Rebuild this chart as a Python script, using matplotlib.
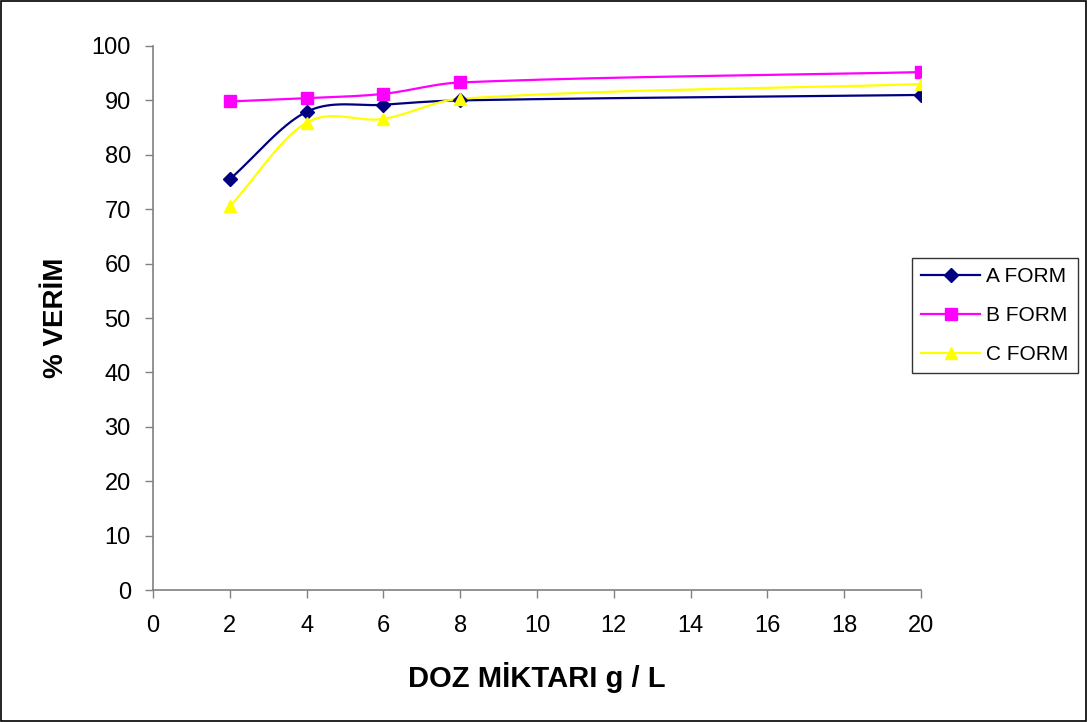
import numpy as np
import matplotlib
matplotlib.use("Agg")
import matplotlib.pyplot as plt
from matplotlib.patches import Rectangle

plt.rcParams['font.family'] = ['Liberation Sans', 'DejaVu Sans']

doz = [2, 4, 6, 8, 20]
a_form = [75.5, 87.9, 89.2, 90.0, 91.0]
b_form = [89.8, 90.4, 91.2, 93.3, 95.2]
c_form = [70.5, 85.9, 86.6, 90.3, 93.0]
series_names = ["A FORM", "B FORM", "C FORM"]
colors = ["#000080", "#FF00FF", "#FFFF00"]
markers = ["D", "s", "^"]


def smooth(xs, ys, n=40):
    """Smoothed line through the points (cubic Hermite drawn as Bezier)."""
    x = np.asarray(xs, float)
    y = np.asarray(ys, float)
    m = np.empty_like(y)
    m[1:-1] = (y[2:] - y[:-2]) / (x[2:] - x[:-2])
    m[0] = (y[1] - y[0]) / (x[1] - x[0])
    m[-1] = (y[-1] - y[-2]) / (x[-1] - x[-2])
    t = np.linspace(0, 1, n)
    ox, oy = [], []
    for i in range(len(x) - 1):
        h = x[i + 1] - x[i]
        p1 = np.array([x[i], y[i]])
        p2 = np.array([x[i + 1], y[i + 1]])
        c1 = p1 + np.array([h / 3, m[i] * h / 3])
        c2 = p2 - np.array([h / 3, m[i + 1] * h / 3])
        tt = t[:, None]
        seg = (1 - tt) ** 3 * p1 + 3 * (1 - tt) ** 2 * tt * c1 + 3 * (1 - tt) * tt ** 2 * c2 + tt ** 3 * p2
        if i > 0:
            seg = seg[1:]
        ox.append(seg[:, 0]); oy.append(seg[:, 1])
    return np.concatenate(ox), np.concatenate(oy)


fig = plt.figure(figsize=(10.88, 7.22), dpi=100)
ax = fig.add_axes([0.1406, 0.1828, 0.8465 - 0.1406, 0.9363 - 0.1828])

for ys, name, col, mk in zip([a_form, b_form, c_form], series_names, colors, markers):
    sx, sy = smooth(doz, ys)
    ax.plot(sx, sy, color=col, lw=1.6, zorder=2)
    ms = 7 if mk == "D" else 9 if mk == "^" else 8
    ax.plot(doz, ys, linestyle="none", marker=mk, color=col, markersize=ms, zorder=3)
    ax.plot([], [], color=col, lw=1.6, marker=mk, markersize=ms, label=name)

ax.set_xlim(0, 20)
ax.set_ylim(0, 100)
ax.set_xticks(range(0, 21, 2))
ax.set_yticks(range(0, 101, 10))
for s in ["top", "right"]:
    ax.spines[s].set_visible(False)
for s in ["left", "bottom"]:
    ax.spines[s].set_color("#808080")
    ax.spines[s].set_linewidth(1.2)
ax.tick_params(axis="both", direction="out", color="#808080", length=6, width=1,
               labelsize=17, pad=10)
ax.tick_params(axis="x", pad=12)

ax.set_xlabel("DOZ MİKTARI g / L", fontsize=21, fontweight="bold", labelpad=18)
ax.set_ylabel("% VERİM", fontsize=20, fontweight="bold", labelpad=16)

leg = fig.legend(loc="upper left", bbox_to_anchor=(912 / 1088, 1 - 258 / 722),
                 bbox_transform=fig.transFigure, borderaxespad=0, frameon=True,
                 fancybox=False, edgecolor="black", fontsize=15, handlelength=2.8,
                 borderpad=0.45, labelspacing=0.95, handletextpad=0.3)
leg.get_frame().set_linewidth(1.0)

fig.patches.append(Rectangle((0.001, 0.001), 0.997, 0.997, transform=fig.transFigure,
                             fill=False, edgecolor="black", lw=1.2))

fig.savefig("out.png", dpi=100)
